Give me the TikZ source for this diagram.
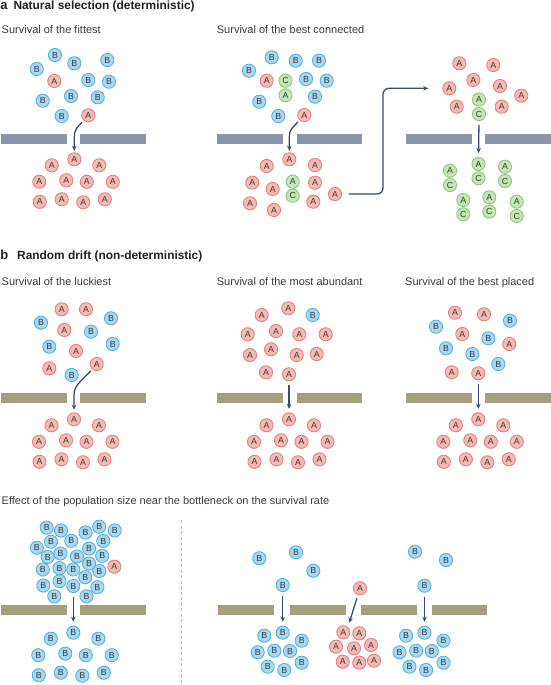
\documentclass[tikz,border=0pt]{standalone}
\usepackage{fontspec}
\setmainfont{Liberation Sans}
\usetikzlibrary{arrows.meta}
\definecolor{pkF}{HTML}{F6B8B5}
\definecolor{pkD}{HTML}{E27D7A}
\definecolor{blF}{HTML}{A7D8F2}
\definecolor{blD}{HTML}{4FAEE0}
\definecolor{grF}{HTML}{C5E5B7}
\definecolor{grD}{HTML}{8AC77C}
\definecolor{txt}{HTML}{3A3A3A}
\definecolor{arrc}{HTML}{3B4A6E}
\definecolor{barAc}{HTML}{8A94AA}
\definecolor{barBc}{HTML}{A49F7E}
\definecolor{dashc}{HTML}{BDBDBD}
\definecolor{ttlc}{HTML}{231F20}
\definecolor{subc}{HTML}{3C3C3C}
\tikzset{
  ball/.style={circle, line width=0.8pt, minimum size=13.2pt, inner sep=0pt,
    font=\fontsize{8.8}{8.8}\selectfont, text=txt},
  cA/.style={ball, draw=pkD, fill=pkF},
  cB/.style={ball, draw=blD, fill=blF},
  cG/.style={ball, draw=grD, fill=grF},
  arr/.style={draw=arrc, line width=1.3pt, -{Stealth[length=5pt,width=4.5pt]}},
  lbl/.style={anchor=base west, inner sep=0pt, font=\fontsize{13}{13}\selectfont\bfseries, text=ttlc},
  ttl/.style={anchor=base west, inner sep=0pt, font=\fontsize{11.9}{12}\selectfont\bfseries, text=ttlc},
  sub/.style={anchor=base west, inner sep=0pt, font=\fontsize{11}{11}\selectfont, text=subc},
}
\newcommand\heap[4]{%
  \foreach \dx/\dy [count=\i] in {0/0,-22.5/6,25/6,-35/22.5,-8/21,12.5/22.5,38.5/22.5,-34.5/42.5,-12.5/40,9/43,30.5/40}
    {\node[c#4] (#1\i) at ({#2+(\dx)},{#3+(\dy)}) {#4};}}
\newcommand\clump[4]{%
  \foreach \dx/\dy [count=\i] in {0/0,-18.4/3,19/8,-25/19.6,-8.4/18,7.3/18.3,19/30,-15/34,1.6/37.3}
    {\node[c#4] (#1\i) at ({#2+(\dx)},{#3+(\dy)}) {#4};}}
\begin{document}
\begin{tikzpicture}[x=1pt,y=-1pt]
\useasboundingbox (0,0) rectangle (551,685);

% ---------- titles ----------
\node[lbl] (la) at (0.3,9.5) {a};
\node[ttl] (ta) at (13.3,9.5) {Natural selection (deterministic)};
\node[sub] (sa1) at (1.5,33.5) {Survival of the fittest};
\node[sub] (sa2) at (216.7,33.5) {Survival of the best connected};
\node[lbl] (lb) at (0.3,259.5) {b};
\node[ttl] (tb) at (17,259.5) {Random drift (non-deterministic)};
\node[sub] (sb1) at (1.5,285) {Survival of the luckiest};
\node[sub] (sb2) at (216.7,285) {Survival of the most abundant};
\node[sub] (sb3) at (405,285) {Survival of the best placed};
\node[sub] (sb4) at (1.5,504) {Effect of the population size near the bottleneck on the survival rate};

% ---------- bars ----------
\foreach \l/\r in {0.5/66.7, 80/146, 217.3/283.3, 296.7/362.3, 406/471.7, 485/551}
  {\fill[barAc] (\l,134) rectangle (\r,144);}
\foreach \l/\r in {0.5/66.7, 80/146, 217.3/283.3, 296.7/362.3, 406/471.7, 485/551}
  {\fill[barBc] (\l,393.3) rectangle (\r,403.3);}
\foreach \l/\r in {0.5/66.7, 80/146, 218.3/274, 290/345.7, 360.7/416.7, 431.7/487.3}
  {\fill[barBc] (\l,605) rectangle (\r,615);}

% ---------- panel a, left ----------
\foreach \x/\y [count=\i] in {55/55, 74.3/63.3, 107.3/60, 36.7/69, 88.3/80, 109/81.7, 42.7/100.7, 71/96, 97.7/97.3, 61.7/116}
  {\node[cB] (aLB\i) at (\x,\y) {B};}
\node[cA] (aLA1) at (54.3,81) {A};
\node[cA] (aLA2) at (88.3,115.3) {A};
\heap{aLb}{74.3}{159.3}{A}
\draw[arr, shorten <=2.5pt, shorten >=1.5pt] (aLA2.232) .. controls (77,127) and (74.3,130) .. (74.3,137) -- (aLb1.north);

% ---------- panel a, middle ----------
\foreach \x/\y [count=\i] in {271.7/57.3, 295.7/60.7, 319/60.7, 249/70.7, 306/79, 326.7/80.7, 259.3/101.7, 315/96.7, 278.3/116}
  {\node[cB] (aMB\i) at (\x,\y) {B};}
\node[cA] (aMA1) at (266.7,80.7) {A};
\node[cA] (aMA2) at (304.3,115) {A};
\node[cG] (aMC) at (285.5,80.7) {C};
\node[cG] (aMG) at (285.5,95.3) {A};
\foreach \x/\y [count=\i] in {289.3/159.3, 266.7/166, 315/165, 252.3/182.7, 272.7/189, 315/182.7, 335/194, 250/203.3, 274/210, 313.3/201.7}
  {\node[cA] (aMb\i) at (\x,\y) {A};}
\node[cG] (aMbG) at (292.7,181.7) {A};
\node[cG] (aMbC) at (292.7,195.8) {C};
\draw[arr, shorten <=2.5pt, shorten >=1.5pt] (aMA2.228) .. controls (292,128) and (289.3,130) .. (289.3,137) -- (aMb1.north);

% ---------- panel a, right ----------
\foreach \x/\y [count=\i] in {459.3/63.3, 493.3/65, 473.3/80, 449.3/88.3, 500/86, 521.3/95.7, 456.7/106.7, 501.7/106.7}
  {\node[cA] (aRA\i) at (\x,\y) {A};}
\node[cG] (aRG) at (479,99.5) {A};
\node[cG] (aRC) at (479,114) {C};
\foreach \x/\y [count=\i] in {450/170.7, 478.5/164, 505/166.7, 463.3/200, 489.3/197.3, 516.7/201.7}
  {\node[cG] (aRbA\i) at (\x,\y) {A};
   \node[cG] (aRbC\i) at (\x,{\y+14.3}) {C};}
\draw[arr, shorten <=4pt, shorten >=4pt] (aRC.south) -- (aRbA2.north);
\coordinate (aturn) at (383,88.3);
\draw[arr, rounded corners=6pt, shorten <=6.5pt, shorten >=14pt] (aMb7.east) -| (aturn) -- (aRA4.west);

% ---------- panel b, left ----------
\foreach \x/\y [count=\i] in {61.7/309.3, 86/309.3, 64.3/330, 76/351, 49.3/368.3, 96.7/364}
  {\node[cA] (bLA\i) at (\x,\y) {A};}
\foreach \x/\y [count=\i] in {41/322.7, 111/318.3, 91/331.7, 49.3/346.7, 112.7/344, 71.7/375}
  {\node[cB] (bLB\i) at (\x,\y) {B};}
\heap{bLb}{74}{419.3}{A}
\draw[arr, shorten <=2pt, shorten >=2.5pt] (bLA6.230) .. controls (80,382) and (74,386) .. (74,395) -- (bLb1.north);

% ---------- panel b, middle ----------
\foreach \x/\y [count=\i] in {261.7/315, 288.3/308.3, 247.7/334.3, 276/331, 299.3/334.3, 325.7/334.3, 250/355, 271/349.3, 296.7/355, 316.7/354, 266/372.3, 289/374.3}
  {\node[cA] (bMA\i) at (\x,\y) {A};}
\node[cB] (bMB1) at (312.7,315) {B};
\heap{bMb}{289}{419.3}{A}
\draw[arr, shorten <=4pt, shorten >=3.5pt] (bMA12.south) -- (bMb1.north);

% ---------- panel b, right ----------
\foreach \x/\y [count=\i] in {455/312.7, 484/314.3, 462.3/334, 509.3/344, 451.7/372.3, 478.3/373.3}
  {\node[cA] (bRA\i) at (\x,\y) {A};}
\foreach \x/\y [count=\i] in {510/320.7, 436/326.7, 488.3/338.3, 446/348.3, 472.3/354, 498.3/364}
  {\node[cB] (bRB\i) at (\x,\y) {B};}
\heap{bRb}{478.3}{419.3}{A}
\draw[arr, shorten <=4pt, shorten >=3.5pt] (bRA6.south) -- (bRb1.north);

% ---------- bottom, left ----------
\draw[dashc, line width=0.9pt, dash pattern=on 3pt off 2.5pt] (181.7,520) -- (181.7,684);
\foreach \x/\y [count=\i] in {46.7/527.7, 61/530.5, 85.5/532.5, 99.2/526.7, 114.7/530.4,
    36.9/547.8, 51/541.7, 71.3/540.8, 89.1/548.6, 103.3/541,
    47.7/557, 60.5/553.5, 77/556.5, 89.1/563.6, 102.2/555.8,
    42.8/569.5, 59.5/568.2, 73.3/569.5, 85.3/577.2, 99.3/571,
    43.3/585.5, 59.5/581.2, 73.3/586, 97.4/587.2,
    54.3/596.3, 86.5/596.3}
  {\node[cB] (eLB\i) at (\x,\y) {B};}
\node[cA] (eLA1) at (114.3,566.7) {A};
\heap{eLb}{73.3}{632.7}{B}
\draw[arr, shorten <=4pt, shorten >=4pt] (eLB23.south) -- (eLb1.north);

% ---------- bottom, right ----------
\foreach \x/\y [count=\i] in {259.3/558.3, 296/552.3, 313.3/570.7, 282.7/585, 415/551.7, 446/560, 424.5/585.7}
  {\node[cB] (eRB\i) at (\x,\y) {B};}
\node[cA] (eRA) at (360,588.3) {A};
\clump{eRl}{282.7}{632.7}{B}
\foreach \x/\y [count=\i] in {343.3/632.3, 359.3/633.3, 336/646.7, 354/648.3, 371/645, 342.7/661.7, 359.3/662.7, 374/660.7}
  {\node[cA] (eRa\i) at (\x,\y) {A};}
\clump{eRr}{424.5}{632.7}{B}
\draw[arr, shorten <=4pt, shorten >=4pt] (eRB4.south) -- (eRl1.north);
\coordinate (eRaim) at (349.3,622.7);
\draw[arr, shorten <=3.5pt] (eRA) -- (eRaim);
\draw[arr, shorten <=4pt, shorten >=4pt] (eRB7.south) -- (eRr1.north);
\end{tikzpicture}
\end{document}
